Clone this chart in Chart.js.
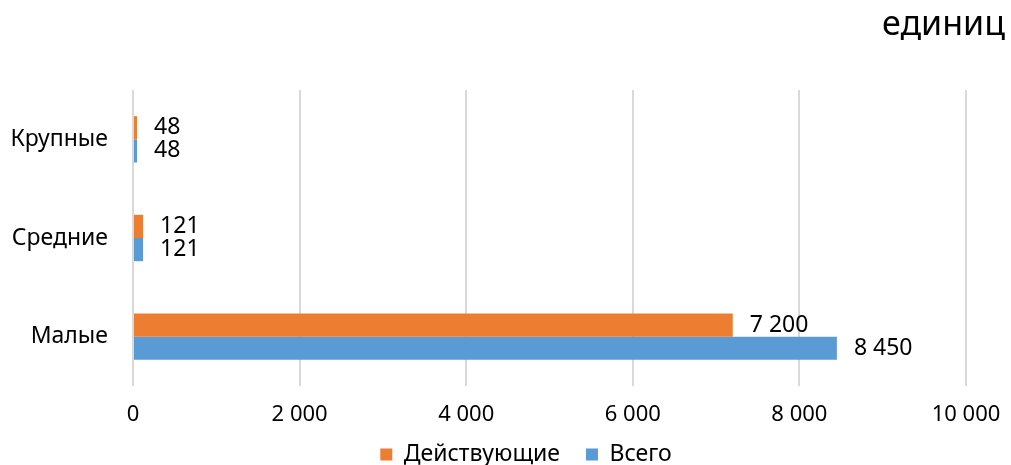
<!DOCTYPE html>
<html>
<head>
<meta charset="utf-8">
<script src="https://cdn.jsdelivr.net/npm/chart.js@4"></script>
<style>
    html, body { margin: 0; padding: 0; background: #fff; overflow: hidden; }
    #wrap { width: 1011px; height: 465px; }
</style>
</head>
<body>
<div id="wrap"><canvas id="myChart"></canvas></div>
<script>
const categories = ["Крупные", "Средние", "Малые"];
const activeValues = [48, 121, 7200];
const totalValues = [48, 121, 8450];
const seriesNames = ["Действующие", "Всего"];
const titleText = "единиц";

const FONT = "'Noto Sans', 'Open Sans', sans-serif";

// 7200 -> "7 200"
const fmt = (v) => String(v).replace(/\B(?=(\d{3})+(?!\d))/g, " ");

const valueLabels = {
    id: "valueLabels",
    afterDatasetsDraw(chart) {
        const ctx = chart.ctx;
        ctx.save();
        ctx.font = "23px " + FONT;
        ctx.fillStyle = "#000";
        ctx.textBaseline = "middle";
        ctx.textAlign = "left";
        chart.data.datasets.forEach((ds, i) => {
            chart.getDatasetMeta(i).data.forEach((bar, j) => {
                ctx.fillText(fmt(ds.data[j]), bar.x + 17, bar.y);
            });
        });
        ctx.restore();
    },
};

// title in the top right corner of the canvas
const cornerTitle = {
    id: "cornerTitle",
    afterDraw(chart) {
        const ctx = chart.ctx;
        ctx.save();
        ctx.font = "34px " + FONT;
        ctx.fillStyle = "#000";
        ctx.textAlign = "right";
        ctx.textBaseline = "middle";
        ctx.fillText(titleText, chart.width - 6, 25);
        ctx.restore();
    },
};

// scales are kept small for the layout; let their labels spill out
const unclip = {
    id: "unclip",
    afterLayout(chart) {
        chart.scales.x.bottom = chart.height;
        chart.scales.y.left = 0;
    },
};

const ctx = document.getElementById("myChart");

new Chart(ctx, {
    type: "bar",
    data: {
        labels: categories,
        datasets: [
            {
                label: seriesNames[0],
                data: activeValues,
                backgroundColor: "#ED7D31",
            },
            {
                label: seriesNames[1],
                data: totalValues,
                backgroundColor: "#5B9BD5",
            },
        ],
    },
    options: {
        indexAxis: "y",
        responsive: true,
        maintainAspectRatio: false,
        animation: false,
        categoryPercentage: 0.47,
        barPercentage: 1,
        layout: {
            padding: { left: 86, right: 45, top: 90, bottom: -11 },
        },
        plugins: {
            title: { display: false },
            legend: {
                position: "bottom",
                labels: {
                    color: "#000",
                    font: { family: FONT, size: 23 },
                    boxWidth: 12,
                    boxHeight: 12,
                    padding: 26,
                },
            },
            tooltip: { enabled: false },
        },
        scales: {
            x: {
                min: 0,
                max: 10000,
                ticks: {
                    stepSize: 2000,
                    color: "#000",
                    font: { family: FONT, size: 22 },
                    padding: 16,
                    callback: (v) => fmt(v),
                },
                grid: {
                    color: "#d9d9d9",
                    lineWidth: 2,
                    drawTicks: false,
                },
                border: { display: false },
                afterFit: (scale) => {
                    scale.height = 31;
                    scale.paddingLeft = 0;
                    scale.paddingRight = 0;
                },
            },
            y: {
                ticks: {
                    color: "#000",
                    font: { family: FONT, size: 23 },
                    padding: 17,
                },
                grid: { display: false },
                border: { display: false },
                afterFit: (scale) => {
                    scale.width = 47;
                },
            },
        },
    },
    plugins: [valueLabels, cornerTitle, unclip],
});
</script>
</body>
</html>
